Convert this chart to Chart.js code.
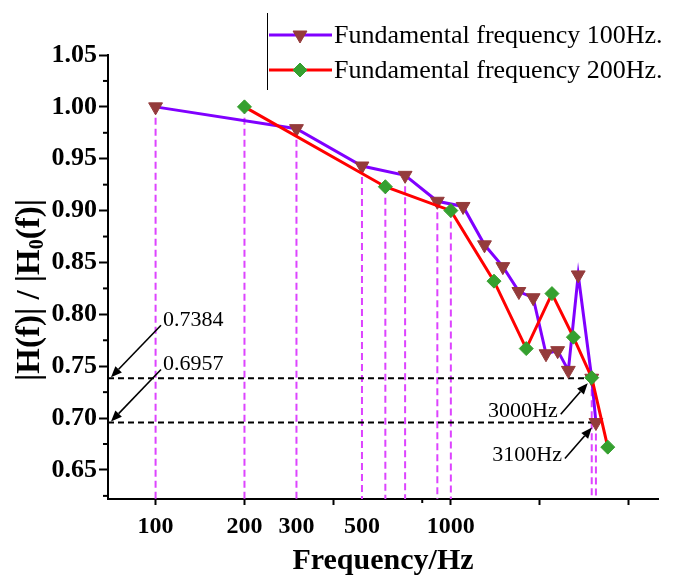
<!DOCTYPE html>
<html>
<head>
<meta charset="utf-8">
<script src="https://cdn.jsdelivr.net/npm/chart.js@4.4.1/dist/chart.umd.min.js"></script>
<style>
  html, body { margin: 0; padding: 0; background: #fff; }
</style>
</head>
<body>
<canvas id="chart" width="676" height="581"></canvas>
<script>
// harmonic response, fundamental 100 Hz
var freq100 = [100, 300, 500, 700, 900, 1100, 1300, 1500, 1700, 1900, 2100, 2300, 2500, 2700, 3000, 3100];
var resp100 = [1.000, 0.979, 0.943, 0.934, 0.909, 0.904, 0.867, 0.846, 0.822, 0.816, 0.762, 0.765, 0.746, 0.838, 0.7384, 0.6957];
// harmonic response, fundamental 200 Hz
var freq200 = [200, 600, 1000, 1400, 1800, 2200, 2600, 3000, 3400];
var resp200 = [1.000, 0.923, 0.900, 0.832, 0.767, 0.820, 0.778, 0.739, 0.672];

// points that get a dashed drop line to the axis
var drop100 = [100, 300, 500, 700, 900, 3000, 3100];
var drop200 = [200, 600, 1000];
// cut-off levels marked with a horizontal line and arrows
var markFreq = [3000, 3100];
var markValue = [0.7384, 0.6957];

var xTickValues = [100, 200, 300, 400, 500, 800, 1000, 2000, 4000];
var xTickLabels = [100, 200, 300, 500, 1000];
var xMajorMarks = [100, 200, 400, 1000, 2000, 4000];
var xMinorMarks = [800];
var yTickValues = [0.65, 0.70, 0.75, 0.80, 0.85, 0.90, 0.95, 1.00, 1.05];
var yMinorMarks = [0.625, 0.675, 0.725, 0.775, 0.825, 0.875, 0.925, 0.975, 1.025];

var serif = '"Liberation Serif", "Times New Roman", serif';
var purple = '#8000FF', red = '#FF0000', brown = '#943B3B', green = '#35A02F', magenta = '#DD44FF';

function pairs(xs, ys) {
  return xs.map(function (x, i) { return { x: x, y: ys[i] }; });
}

function seg(ctx, x1, y1, x2, y2) {
  ctx.beginPath(); ctx.moveTo(x1, y1); ctx.lineTo(x2, y2); ctx.stroke();
}

function arrow(ctx, x1, y1, x2, y2) {
  var a = Math.atan2(y2 - y1, x2 - x1), len = 11, w = 4.5;
  var bx = x2 - Math.cos(a) * len, by = y2 - Math.sin(a) * len;
  seg(ctx, x1, y1, bx, by);
  ctx.beginPath();
  ctx.moveTo(x2, y2);
  ctx.lineTo(bx - Math.sin(a) * w, by + Math.cos(a) * w);
  ctx.lineTo(bx + Math.sin(a) * w, by - Math.cos(a) * w);
  ctx.closePath();
  ctx.fill();
}

var extras = {
  id: 'extras',
  beforeDatasetsDraw: function (chart) {
    var ctx = chart.ctx, sx = chart.scales.x, sy = chart.scales.y, area = chart.chartArea;
    ctx.save();
    ctx.lineWidth = 2;
    ctx.setLineDash([7, 4]);
    ctx.strokeStyle = magenta;
    drop100.forEach(function (f) {
      var px = sx.getPixelForValue(f);
      seg(ctx, px, sy.getPixelForValue(resp100[freq100.indexOf(f)]), px, area.bottom);
    });
    drop200.forEach(function (f) {
      var px = sx.getPixelForValue(f);
      seg(ctx, px, sy.getPixelForValue(resp200[freq200.indexOf(f)]), px, area.bottom);
    });
    ctx.strokeStyle = '#000';
    ctx.setLineDash([6, 4]);
    markFreq.forEach(function (f, i) {
      var py = sy.getPixelForValue(markValue[i]);
      seg(ctx, area.left, py, sx.getPixelForValue(f), py);
    });
    ctx.restore();
  },
  afterDraw: function (chart) {
    var ctx = chart.ctx, sx = chart.scales.x, sy = chart.scales.y, area = chart.chartArea;
    ctx.save();
    ctx.strokeStyle = '#000';
    ctx.fillStyle = '#000';
    ctx.lineWidth = 2;

    // minor tick marks
    yMinorMarks.forEach(function (v) {
      var py = sy.getPixelForValue(v);
      seg(ctx, area.left - 5, py, area.left, py);
    });
    xMinorMarks.forEach(function (v) {
      var px = sx.getPixelForValue(v);
      seg(ctx, px, area.bottom, px, area.bottom + 4);
    });

    // arrows to the marked levels on the y axis
    ctx.lineWidth = 1.6;
    ctx.font = '22px ' + serif;
    ctx.textBaseline = 'middle';
    markValue.forEach(function (v, i) {
      var py = sy.getPixelForValue(v);
      ctx.textAlign = 'left';
      ctx.fillText(v.toFixed(4), area.left + 55, py - 58);
      arrow(ctx, area.left + 53, py - 53, area.left + 3, py - 1);
    });
    // arrows to the marked frequencies
    markFreq.forEach(function (f, i) {
      var px = sx.getPixelForValue(f), py = sy.getPixelForValue(markValue[i]);
      ctx.textAlign = 'right';
      ctx.fillText(f + 'Hz', px - 34, py + 33);
      arrow(ctx, px - 31, py + 36, px - 4, py + 5);
    });

    // y axis title with subscript
    ctx.translate(30, 290);
    ctx.rotate(-Math.PI / 2);
    ctx.textAlign = 'left';
    var big = 'bold 33px ' + serif, small = 'bold 20px ' + serif;
    var parts = [['|H(f)| / |H', big, 0], ['0', small, 8], ['(f)|', big, 0]];
    var total = 0;
    parts.forEach(function (p) { ctx.font = p[1]; total += ctx.measureText(p[0]).width; });
    var cx = -total / 2;
    parts.forEach(function (p) {
      ctx.font = p[1];
      ctx.fillText(p[0], cx, p[2]);
      cx += ctx.measureText(p[0]).width;
    });
    ctx.restore();

    // legend
    ctx.save();
    ctx.strokeStyle = '#000';
    ctx.lineWidth = 1;
    seg(ctx, 267.5, 13, 267.5, 90);
    var entries = [
      { label: 'Fundamental frequency 100Hz.', line: purple, fill: brown, style: 'triangle', rot: 180, r: 8 },
      { label: 'Fundamental frequency 200Hz.', line: red, fill: green, style: 'rectRot', rot: 0, r: 7 }
    ];
    entries.forEach(function (e, i) {
      var ly = 35 + i * 35;
      ctx.strokeStyle = e.line;
      ctx.lineWidth = 3;
      seg(ctx, 269, ly, 332, ly);
      ctx.fillStyle = e.fill;
      ctx.strokeStyle = e.fill;
      ctx.lineWidth = 1;
      Chart.helpers.drawPoint(ctx, { pointStyle: e.style, rotation: e.rot, radius: e.r, borderWidth: 1 }, 300, ly);
      ctx.fillStyle = '#000';
      ctx.font = '26px ' + serif;
      ctx.textAlign = 'left';
      ctx.textBaseline = 'middle';
      ctx.fillText(e.label, 334, ly + 1);
    });
    ctx.restore();
  }
};

new Chart(document.getElementById('chart').getContext('2d'), {
  type: 'line',
  data: {
    datasets: [
      {
        label: 'Fundamental frequency 100Hz.',
        data: pairs(freq100, resp100),
        borderColor: purple,
        borderWidth: 3,
        pointStyle: 'triangle',
        rotation: 180,
        pointRadius: 8,
        pointBackgroundColor: brown,
        pointBorderColor: brown,
        pointBorderWidth: 1,
        order: 1
      },
      {
        label: 'Fundamental frequency 200Hz.',
        data: pairs(freq200, resp200),
        borderColor: red,
        borderWidth: 3,
        pointStyle: 'rectRot',
        pointRadius: 7,
        pointBackgroundColor: green,
        pointBorderColor: green,
        pointBorderWidth: 1,
        order: 0
      }
    ]
  },
  options: {
    responsive: false,
    animation: false,
    layout: { padding: { top: 55, right: 18, left: 0, bottom: 0 } },
    plugins: { legend: { display: false }, tooltip: { enabled: false } },
    scales: {
      x: {
        type: 'logarithmic',
        min: 69,
        max: 5030,
        afterBuildTicks: function (s) { s.ticks = xTickValues.map(function (v) { return { value: v }; }); },
        afterFit: function (s) { s.height = 82; },
        grid: {
          drawOnChartArea: false,
          tickLength: 6,
          tickWidth: 2,
          tickColor: function (c) { return xMajorMarks.indexOf(c.tick.value) >= 0 ? '#000' : 'rgba(0,0,0,0)'; }
        },
        border: { color: '#000', width: 2 },
        ticks: {
          autoSkip: false,
          maxRotation: 0,
          padding: 7,
          color: '#000',
          font: { family: serif, size: 24, weight: 'bold' },
          callback: function (v) { return xTickLabels.indexOf(v) >= 0 ? String(v) : ''; }
        },
        title: {
          display: true,
          text: 'Frequency/Hz',
          color: '#000',
          font: { family: serif, size: 30, weight: 'bold' },
          padding: { top: 0, bottom: 2 }
        }
      },
      y: {
        min: 0.622,
        max: 1.05,
        afterBuildTicks: function (s) { s.ticks = yTickValues.map(function (v) { return { value: v }; }); },
        afterFit: function (s) { s.width = 108; },
        grid: { drawOnChartArea: false, tickLength: 9, tickWidth: 2, tickColor: '#000' },
        border: { color: '#000', width: 2 },
        ticks: {
          padding: 2,
          color: '#000',
          font: { family: serif, size: 26, weight: 'bold' },
          callback: function (v) { return v.toFixed(2); }
        }
      }
    }
  },
  plugins: [extras]
});
</script>
</body>
</html>
